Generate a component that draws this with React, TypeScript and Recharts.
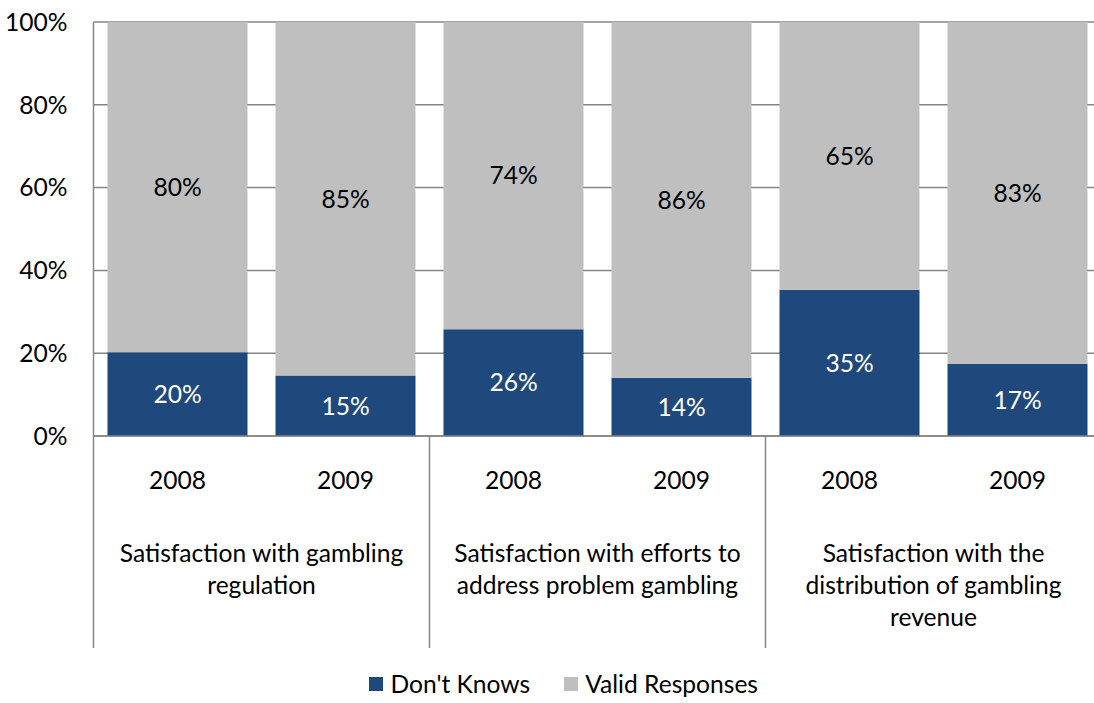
import React from "react";
import { BarChart, Bar, XAxis, YAxis, CartesianGrid, Legend, LabelList } from "recharts";

const years = ["2008", "2009", "2008", "2009", "2008", "2009"];
const groupLabels = [
  ["Satisfaction with gambling", "regulation"],
  ["Satisfaction with efforts to", "address problem gambling"],
  ["Satisfaction with the", "distribution of gambling", "revenue"],
];
const dontKnows = [20.2, 14.6, 25.8, 14.1, 35.3, 17.4];
const validResponses = [79.8, 85.4, 74.2, 85.9, 64.7, 82.6];
const yTicks = [0, 20, 40, 60, 80, 100];

const data = years.map((year, i) => ({
  year,
  dk: dontKnows[i],
  valid: validResponses[i],
}));

const CHART_W = 1110;
const CHART_H = 703;
const MARGIN = { top: 22, right: 8.5, left: 0, bottom: 0 };
const Y_AXIS_W = 93.5;
const X_AXIS_H = 212;
const BAND = (CHART_W - MARGIN.left - MARGIN.right - Y_AXIS_W) / years.length;

const BLUE = "#1F497D";
const GRAY = "#BFBFBF";
const LINE = "#868686";
const FONT = 24.6;

const YearTick = (props: any) => {
  const { x, y, payload, index } = props;
  const isFirst = index % 2 === 0;
  const group = groupLabels[Math.floor(index / 2)];
  return (
    <g>
      <text x={x} y={y + 43} textAnchor="middle" dominantBaseline="central" fontSize={FONT} fill="#000">
        {payload.value}
      </text>
      {isFirst && (
        <>
          <line x1={x - BAND / 2} x2={x - BAND / 2} y1={y} y2={y + X_AXIS_H} stroke={LINE} strokeWidth={1.5} />
          {index === years.length - 2 && (
            <line x1={x + BAND * 1.5} x2={x + BAND * 1.5} y1={y} y2={y + X_AXIS_H} stroke={LINE} strokeWidth={1.5} />
          )}
          {group.map((ln, k) => (
            <text
              key={k}
              x={x + BAND / 2}
              y={y + 116 + k * 32}
              textAnchor="middle"
              dominantBaseline="central"
              fontSize={FONT}
              fill="#000"
            >
              {ln}
            </text>
          ))}
        </>
      )}
    </g>
  );
};

const LegendContent = () => (
  <div
    style={{
      height: 55,
      display: "flex",
      justifyContent: "center",
      alignItems: "center",
      paddingTop: 16,
      boxSizing: "border-box",
      fontSize: FONT,
      color: "#000",
      marginLeft: 26,
    }}
  >
    {[
      { name: "Don't Knows", color: BLUE },
      { name: "Valid Responses", color: GRAY },
    ].map((it, i) => (
      <span key={it.name} style={{ display: "flex", alignItems: "center", marginLeft: i ? 34 : 0 }}>
        <span style={{ width: 14, height: 14, background: it.color, marginRight: 7, display: "inline-block" }} />
        {it.name}
      </span>
    ))}
  </div>
);

export default function App() {
  return (
    <div
      style={{
        position: "absolute",
        left: 0,
        top: 0,
        width: 1094,
        height: CHART_H,
        overflow: "hidden",
        background: "#fff",
        fontFamily: "Lato, 'Open Sans', sans-serif",
      }}
    >
      <BarChart width={CHART_W} height={CHART_H} data={data} margin={MARGIN} barCategoryGap={14}>
        <CartesianGrid vertical={false} stroke={LINE} strokeWidth={1.5} />
        <XAxis
          dataKey="year"
          interval={0}
          height={X_AXIS_H}
          tickLine={false}
          tickSize={0}
          tickMargin={0}
          axisLine={{ stroke: LINE, strokeWidth: 1.5 }}
          tick={<YearTick />}
        />
        <YAxis
          width={Y_AXIS_W}
          domain={[0, 100]}
          ticks={yTicks}
          tickFormatter={(v: number) => `${v}%`}
          tickLine={false}
          tickSize={0}
          tickMargin={26}
          axisLine={{ stroke: LINE, strokeWidth: 1.5 }}
          tick={{ fontSize: FONT, fill: "#000" }}
        />
        <Legend verticalAlign="bottom" height={55} content={<LegendContent />} />
        <Bar dataKey="dk" name="Don't Knows" stackId="a" fill={BLUE} isAnimationActive={false}>
          <LabelList
            dataKey="dk"
            position="center"
            fill="#fff"
            fontSize={FONT}
            formatter={(v: any) => `${Math.round(Number(v))}%`}
          />
        </Bar>
        <Bar dataKey="valid" name="Valid Responses" stackId="a" fill={GRAY} isAnimationActive={false}>
          <LabelList
            dataKey="valid"
            position="center"
            fill="#000"
            fontSize={FONT}
            formatter={(v: any) => `${Math.round(Number(v))}%`}
          />
        </Bar>
      </BarChart>
    </div>
  );
}
